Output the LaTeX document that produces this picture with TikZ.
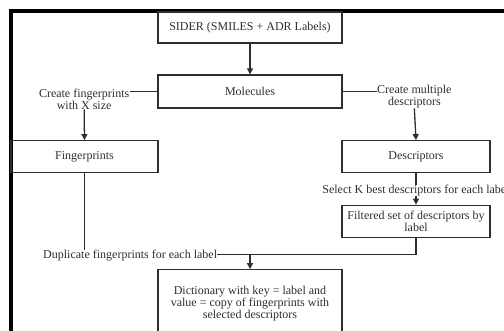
\documentclass[tikz,border=0pt]{standalone}
\usepackage{fontspec}
\setmainfont{Liberation Serif}
\usetikzlibrary{arrows.meta}
\definecolor{ink}{gray}{0.18}
\tikzset{
  box/.style={draw=ink,line width=1.3pt,text=ink,font=\fontsize{12}{12}\selectfont,align=center,inner sep=0pt,minimum width=184pt,minimum height=32pt},
  lbl/.style={text=ink,font=\fontsize{12}{12}\selectfont,align=center,inner sep=0pt},
  conn/.style={draw=ink,line width=1.3pt},
  arr/.style={conn,-{Triangle[length=6pt,width=6pt]}},
  frame/.style={draw=black,line width=3.3pt}
}
\begin{document}
\begin{tikzpicture}[x=1pt,y=-1pt]
\useasboundingbox (0,0) rectangle (504,331);
\clip (0,0) rectangle (504,331);
\draw[frame] (11,345) -- (11,11) -- (520,11);
% boxes
\node[box,minimum height=31pt] (sider) at (250,27.5) {SIDER (SMILES + ADR Labels)};
\node[box,minimum height=33pt] (mol) at (250,91.5) {Molecules};
\node[box,minimum width=147pt] (fp) at (84.5,156.7) {Fingerprints};
\node[box,minimum width=148pt] (desc) at (416,156.7) {Descriptors};
\node[box,minimum width=148pt] (filt) at (416,221.3) {Filtered set of descriptors by\\label};
\node[box,minimum height=68pt] (dict) at (250,303.7) {Dictionary with key = label and\\value = copy of fingerprints with\\selected descriptors};
% labels
\node[lbl,anchor=north east] (lfp) at (129.5,88.5) {Create fingerprints\\with X size};
\node[lbl,anchor=north west] (lde) at (377,85.1) {Create multiple\\descriptors};
\node[lbl,anchor=base] (sel) at (416,193.7) {Select K best descriptors for each label};
\node[lbl,anchor=base west] (dup) at (43,258.7) {Duplicate fingerprints for each label};
\coordinate (j) at ([yshift=1.5pt]dup.east);
% connectors
\draw[arr] (sider.south) -- (mol.north);
\draw[conn] (mol.west) -- (mol.west -| lfp.east);
\draw[conn] (mol.east) -- (mol.east -| lde.west);
\draw[arr] (lfp.south) -- (fp.north);
\draw[arr] (lde.south) -- (desc.north);
\draw[conn] (desc.south) -- (sel.north);
\draw[arr] (sel.south) -- (filt.north);
\draw[conn] (fp.south) -- (fp.south |- dup.north);
\draw[conn] (filt.south) |- (j);
\draw[arr] (dict.north |- j) -- (dict.north);
\end{tikzpicture}
\end{document}
